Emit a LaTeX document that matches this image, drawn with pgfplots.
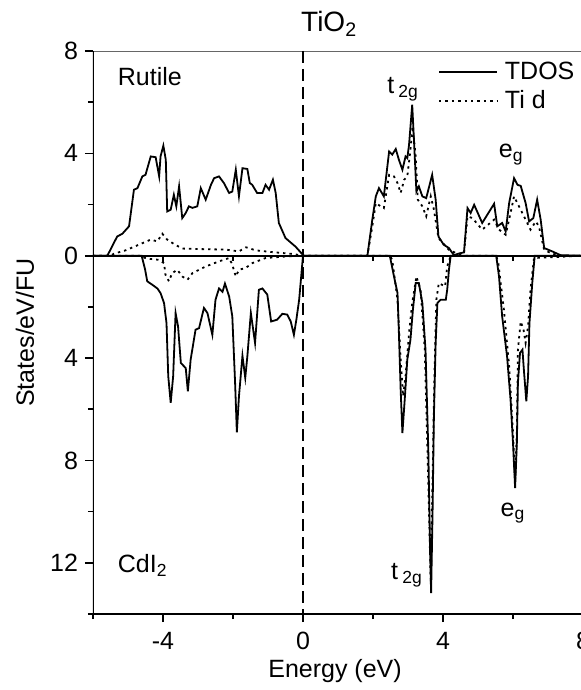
\documentclass[border=0pt]{standalone}
\usepackage{fontspec}
\setmainfont{Liberation Sans}
\usepackage{pgfplots}
\pgfplotsset{compat=1.18}
\newcommand\f{\fontsize{12.5}{15}\selectfont}

% Rutile (upper panel), valence + conduction bands
\pgfplotstableread{
x y
-6 0
-5.59 0
-5.31 0.75
-5.16 0.86
-4.97 1.15
-4.83 2.58
-4.73 2.64
-4.59 3.10
-4.50 3.16
-4.35 3.88
-4.21 3.85
-4.11 3.10
-4.07 3.88
-3.99 4.30
-3.92 3.75
-3.88 1.73
-3.78 1.80
-3.69 2.38
-3.62 1.93
-3.54 2.71
-3.45 1.47
-3.35 1.67
-3.26 1.93
-3.16 1.87
-3.02 1.93
-2.92 2.64
-2.78 2.19
-2.63 2.77
-2.54 3.03
-2.40 3.10
-2.26 2.84
-2.11 2.45
-2.02 2.51
-1.92 3.36
-1.83 2.32
-1.73 3.42
-1.59 3.39
-1.52 2.84
-1.45 2.77
-1.31 2.45
-1.16 2.45
-1.07 2.77
-0.97 2.58
-0.86 2.97
-0.78 2.45
-0.69 1.28
-0.50 0.69
-0.21 0.35
-0.04 0.09
0.02 0
1.84 0
1.98 1.41
2.08 2.32
2.17 2.64
2.31 2.32
2.46 4.07
2.55 3.95
2.65 4.17
2.74 3.75
2.84 3.36
2.93 3.88
2.98 3.81
3.03 4.34
3.12 5.90
3.17 4.53
3.24 2.51
3.31 2.71
3.41 2.32
3.52 2.25
3.69 3.16
3.79 2.19
3.87 0.75
4.02 0.43
4.17 0.30
4.31 0.02
4.46 0.09
4.60 0.13
4.70 1.86
4.79 1.67
4.89 1.99
5.12 1.28
5.46 2.03
5.55 1.15
5.69 1.28
5.79 0.95
5.89 2.06
6.03 3.03
6.13 2.77
6.22 2.73
6.36 2.06
6.46 1.34
6.58 1.47
6.69 2.19
6.79 1.41
6.89 0.30
7.12 0.17
7.36 0.02
8 0
}\rutTDOS

\pgfplotstableread{
x y
-6 0
-5.5 0
-5.4 0.08
-5.07 0.21
-4.69 0.43
-4.35 0.63
-4.16 0.56
-4.02 0.86
-3.88 0.63
-3.69 0.46
-3.45 0.28
-2.97 0.26
-2.21 0.24
-1.83 0.17
-1.63 0.33
-1.35 0.21
-0.87 0.14
-0.30 0.07
0 0
1.84 0
1.98 1.15
2.08 2.06
2.22 1.93
2.31 1.86
2.46 3.16
2.60 3.10
2.70 2.84
2.79 2.45
2.89 2.97
2.98 3.10
3.07 4.14
3.13 5.05
3.22 3.88
3.28 2.19
3.41 1.93
3.52 1.54
3.65 2.32
3.74 1.80
3.87 0.69
4.17 0.23
4.46 0.05
4.60 0.10
4.70 1.54
4.84 1.47
5.12 1.02
5.46 1.41
5.60 1.02
5.79 0.82
5.93 1.67
6.03 2.32
6.17 1.93
6.36 1.41
6.50 1.02
6.65 1.34
6.74 1.15
6.89 0.23
7.12 0.08
7.4 0
8 0
}\rutTid

% CdI2 (lower panel, drawn downwards)
\pgfplotstableread{
x y
-6 0
-4.61 0
-4.51 -0.55
-4.45 -1.00
-4.31 -1.13
-4.16 -1.28
-4.07 -1.46
-3.97 -1.85
-3.90 -2.63
-3.85 -4.71
-3.78 -5.75
-3.71 -4.71
-3.64 -2.24
-3.57 -2.76
-3.49 -4.19
-3.40 -4.32
-3.35 -4.39
-3.29 -5.30
-3.21 -4.06
-3.07 -2.89
-2.97 -2.83
-2.83 -2.04
-2.73 -2.24
-2.59 -3.09
-2.50 -1.72
-2.40 -1.28
-2.30 -1.41
-2.23 -1.09
-2.11 -1.59
-2.02 -2.37
-1.94 -4.97
-1.89 -6.90
-1.83 -5.50
-1.73 -3.91
-1.65 -4.77
-1.59 -3.93
-1.49 -2.24
-1.37 -3.41
-1.26 -1.33
-1.16 -1.28
-1.02 -1.52
-0.91 -2.57
-0.74 -2.50
-0.59 -2.27
-0.45 -2.30
-0.35 -2.57
-0.26 -3.09
-0.19 -2.50
-0.11 -1.72
0 0
2.48 0
2.60 -0.81
2.70 -1.46
2.74 -3.02
2.79 -5.23
2.84 -6.93
2.90 -5.75
2.98 -4.06
3.07 -3.28
3.14 -2.11
3.22 -1.07
3.31 -1.07
3.41 -1.85
3.50 -3.67
3.58 -7.58
3.63 -11.48
3.66 -13.18
3.70 -10.18
3.74 -6.28
3.79 -3.41
3.84 -1.85
3.93 -1.72
4.08 -1.72
4.12 -1.33
4.17 -0.55
4.22 0
5.52 0
5.60 -0.81
5.69 -2.37
5.83 -3.93
5.93 -5.63
6.00 -7.32
6.06 -9.08
6.11 -7.32
6.14 -4.97
6.20 -3.80
6.27 -3.67
6.31 -4.45
6.38 -5.69
6.43 -4.71
6.47 -2.63
6.55 -1.07
6.62 0
8 0
}\cdiTDOS

\pgfplotstableread{
x y
-6 0
-4.6 0
-4.53 -0.08
-4.40 -0.12
-4.12 -0.16
-3.97 -0.29
-3.93 -0.74
-3.83 -1.00
-3.74 -0.68
-3.59 -0.55
-3.45 -0.81
-3.30 -0.94
-3.16 -0.68
-2.78 -0.42
-2.40 -0.22
-2.11 -0.09
-2.02 -0.35
-1.92 -0.81
-1.83 -0.55
-1.64 -0.48
-1.45 -0.29
-1.07 -0.09
-0.50 -0.03
0 0
2.48 0
2.55 -0.16
2.70 -1.72
2.79 -4.06
2.86 -5.49
2.93 -4.71
3.03 -3.02
3.12 -1.85
3.24 -0.81
3.36 -1.33
3.48 -3.67
3.58 -8.88
3.65 -12.79
3.70 -8.88
3.75 -4.97
3.81 -1.72
3.88 -1.07
4.06 -1.20
4.12 -0.42
4.22 0
5.52 0
5.58 -0.29
5.74 -2.11
5.89 -4.32
6.00 -6.93
6.06 -8.75
6.11 -6.93
6.14 -3.67
6.22 -2.57
6.30 -2.89
6.36 -3.41
6.43 -2.76
6.50 -1.33
6.60 -0.09
8 0
}\cdiTid

\begin{document}
\begin{tikzpicture}
\begin{axis}[
    scale only axis,
    width=245pt, height=281.5pt,
    xmin=-6, xmax=8, ymin=-14, ymax=8,
    xtick={-4,0,4,8}, xticklabels={-4,0,4,8},
    minor xtick={-6,-2,2,6},
    ytick={-12,-8,-4,0,4,8}, yticklabels={12,8,4,0,4,8},
    minor ytick={-14,-10,-6,-2,2,6},
    xtick pos=lower, ytick pos=left,
    tick align=outside,
    major tick length=4pt, minor tick length=2.5pt,
    tick style={black, line width=0.8pt},
    tick label style={font=\f},
    xticklabel style={yshift=-1.5pt},
    axis line style={line width=0.4pt, black!60},
    title={\fontsize{14}{16}\selectfont TiO\textsubscript{2}},
    title style={at={(axis description cs:0.482,1)}, anchor=base, yshift=3.5pt},
    xlabel={\f Energy (eV)},
    xlabel style={at={(axis description cs:0.494,0)}, anchor=center, yshift=-28.5pt},
    ylabel={\f States/eV/FU},
    ylabel style={at={(axis description cs:0,0.5)}, anchor=center, yshift=34pt},
    legend style={draw=none, fill=none, font=\f, at={(axis cs:3.85,7.75)}, anchor=north west, inner sep=0pt, row sep=0pt},
    legend cell align=left,
    legend image code/.code={\draw[#1] (0pt,0pt) -- (29pt,0pt);},
]
\addplot[black, line width=0.9pt] table {\rutTDOS};
\addlegendentry{\hspace{1.5pt}TDOS}
\addplot[black, line width=0.9pt, dash pattern=on 1.2pt off 2pt] table {\rutTid};
\addlegendentry{\hspace{1.5pt}Ti d}
\addplot[black, line width=0.9pt, forget plot] table {\cdiTDOS};
\addplot[black, line width=0.9pt, dash pattern=on 1.2pt off 2pt, forget plot] table {\cdiTid};

\coordinate (sw) at (rel axis cs:0,0);
\draw[line width=1pt] (rel axis cs:0,1) -- (rel axis cs:0,0) -- (rel axis cs:1,0);
\draw[line width=1pt] (axis cs:-6,0) -- (axis cs:8,0);
\pgfplotsinvokeforeach{-4,0,4}{\draw[line width=0.8pt] (axis cs:#1,0) -- ++(0pt,-3.5pt);}
\pgfplotsinvokeforeach{-2,2,6}{\draw[line width=0.8pt] (axis cs:#1,0) -- ++(0pt,-2.5pt);}
\draw[line width=0.6pt, dash pattern=on 6pt off 3pt] (axis cs:0,8) -- (axis cs:0,-14);

\node[font=\f, anchor=west] at (axis cs:-5.49,7.0) {Rutile};
\node[font=\f, anchor=west] at (axis cs:-5.49,-12.1) {CdI\textsubscript{2}};
\node[font=\f] at (axis cs:2.86,6.5) {t\,\textsubscript{2g}};
\node[font=\f] at (axis cs:5.95,3.95) {e\textsubscript{g}};
\node[font=\f] at (axis cs:6.0,-10.05) {e\textsubscript{g}};
\node[font=\f] at (axis cs:2.97,-12.5) {t\,\textsubscript{2g}};
\end{axis}
\pgfresetboundingbox
\path ([shift={(-46.5pt,-38pt)}]sw) rectangle ([shift={(243.5pt,307pt)}]sw);
\end{tikzpicture}
\end{document}
